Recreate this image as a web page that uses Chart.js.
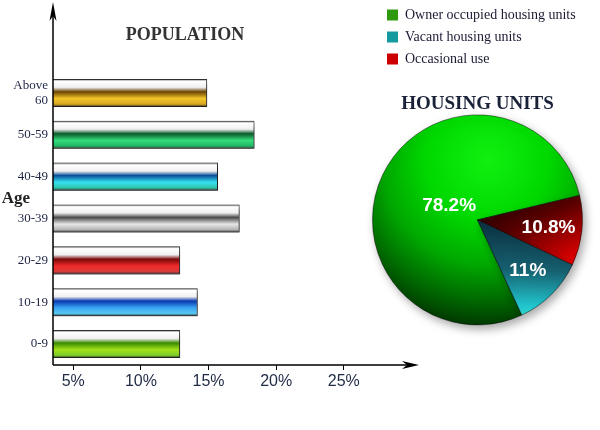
<!DOCTYPE html>
<html>
<head>
<meta charset="utf-8">
<script src="https://cdn.jsdelivr.net/npm/chart.js@4"></script>
<style>
  body { margin: 0; background: #fff; width: 600px; height: 430px; position: relative; overflow: hidden; font-family: "Liberation Serif", serif; }
  #barBox { position: absolute; left: 0; top: 0; width: 420px; height: 400px; }
  #pieBox { position: absolute; left: 360px; top: 0; width: 240px; height: 430px; }
  .title { position: absolute; font-weight: bold; white-space: nowrap; transform: translate(-50%, -50%); }
</style>
</head>
<body>
<div id="barBox"><canvas id="popChart"></canvas></div>
<div id="pieBox"><canvas id="housingChart"></canvas></div>
<div class="title" style="left:185px; top:34px; font-size:18px; color:#333;">POPULATION</div>
<div class="title" style="left:16px; top:198px; font-size:17px; color:#222;">Age</div>

<script>
// Population by age (percent)
const ageGroups = [["Above", "60"], "50-59", "40-49", "30-39", "20-29", "10-19", "0-9"];
const populationPct = [14.9, 18.4, 15.7, 17.3, 12.9, 14.2, 12.9];
const pctTicks = [5, 10, 15, 20, 25];

// Housing units (percent), in clockwise order of the pie
const housingLabels = ["Owner occupied housing units", "Occasional use", "Vacant housing units"];
const housingPct = [78.2, 10.8, 11];
const legendOrder = ["Owner occupied housing units", "Vacant housing units", "Occasional use"];

// bar colours: [dark band, bright, bottom]
const barColors = [
  ["#6b4300", "#f2c62a", "#d9a520"],
  ["#0b5a2a", "#34dc7c", "#22b866"],
  ["#0a4f9a", "#35e2f2", "#2ec4a8"],
  ["#4a4a4a", "#e6e6e6", "#b4b4b4"],
  ["#7a0808", "#f02a2a", "#d83a3a"],
  ["#0838b0", "#3aa4f4", "#58c8f0"],
  ["#3a8a00", "#a2e21a", "#7ccc2a"],
];
const housingColors = ["#2e9a0e", "#cc0000", "#139aa0"];

// drop shadow under the marks
const shadowPlugin = {
  id: "shadow",
  beforeDatasetsDraw(chart, args, opts) {
    const c = chart.ctx;
    c.save();
    c.shadowColor = opts.color;
    c.shadowBlur = opts.blur;
    c.shadowOffsetX = opts.x;
    c.shadowOffsetY = opts.y;
  },
  afterDatasetsDraw(chart) {
    chart.ctx.restore();
  },
};

// axis lines with arrow heads
const arrowAxes = {
  id: "arrowAxes",
  afterDraw(chart) {
    const { ctx, chartArea: a } = chart;
    const r = chart.width - 1;
    ctx.save();
    ctx.strokeStyle = "#000";
    ctx.fillStyle = "#000";
    ctx.lineWidth = 1.5;
    ctx.beginPath();
    ctx.moveTo(a.left, a.bottom);
    ctx.lineTo(a.left, 10);
    ctx.moveTo(a.left, a.bottom);
    ctx.lineTo(r - 8, a.bottom);
    ctx.stroke();
    ctx.beginPath();
    ctx.moveTo(a.left, 2);
    ctx.lineTo(a.left - 3.5, 21);
    ctx.lineTo(a.left, 16);
    ctx.lineTo(a.left + 3.5, 21);
    ctx.closePath();
    ctx.fill();
    ctx.beginPath();
    ctx.moveTo(r, a.bottom);
    ctx.lineTo(r - 17, a.bottom - 4);
    ctx.lineTo(r - 12, a.bottom);
    ctx.lineTo(r - 17, a.bottom + 4);
    ctx.closePath();
    ctx.fill();
    ctx.restore();
  },
};

function glossy(ctx) {
  const chart = ctx.chart;
  const y = chart.scales.y;
  const pal = barColors[ctx.dataIndex];
  if (!chart.chartArea || !y) return pal[1];
  const c = y.getPixelForValue(ctx.dataIndex);
  const half = (chart.chartArea.height / ageGroups.length) * 0.67 / 2;
  const g = chart.ctx.createLinearGradient(0, c - half, 0, c + half);
  g.addColorStop(0, "#444");
  g.addColorStop(0.08, "#ffffff");
  g.addColorStop(0.3, "#f0f0f0");
  g.addColorStop(0.46, pal[0]);
  g.addColorStop(0.7, pal[1]);
  g.addColorStop(0.9, pal[2]);
  g.addColorStop(1, "#2a2a2a");
  return g;
}

new Chart(document.getElementById("popChart"), {
  type: "bar",
  data: {
    labels: ageGroups,
    datasets: [
      {
        data: populationPct,
        backgroundColor: glossy,
        borderColor: "rgba(30,30,30,0.9)",
        borderWidth: 1,
        barPercentage: 0.67,
        categoryPercentage: 1,
      },
    ],
  },
  options: {
    indexAxis: "y",
    responsive: true,
    maintainAspectRatio: false,
    animation: false,
    layout: { padding: { top: 72, right: 12 } },
    plugins: {
      legend: { display: false },
      tooltip: { enabled: false },
      shadow: { color: "rgba(0,0,0,0.55)", blur: 6, x: 3, y: 3 },
    },
    scales: {
      x: {
        min: 3.5,
        max: 29.75,
        afterBuildTicks: (s) => {
          s.ticks = pctTicks.map((v) => ({ value: v }));
        },
        afterFit: (s) => {
          s.height = 35;
        },
        grid: { drawOnChartArea: false, drawTicks: true, tickLength: 5, color: "#000" },
        border: { display: false },
        ticks: {
          callback: (v) => v + "%",
          color: "#1f2a44",
          font: { family: "Liberation Sans", size: 16 },
          padding: 2,
          maxRotation: 0,
        },
      },
      y: {
        afterFit: (s) => {
          s.width = 53;
        },
        grid: { display: false, drawTicks: false },
        border: { display: false },
        ticks: {
          color: "#1e2545",
          font: { family: "Liberation Serif", size: 13 },
          padding: 5,
        },
      },
    },
  },
  plugins: [shadowPlugin, arrowAxes],
});

function sliceFill(ctx) {
  const chart = ctx.chart;
  const a = chart.chartArea;
  if (!a) return housingColors[ctx.dataIndex];
  const cx = (a.left + a.right) / 2;
  const cy = (a.top + a.bottom) / 2;
  const c = chart.ctx;
  let g;
  if (ctx.dataIndex === 0) {
    g = c.createRadialGradient(cx + 10, cy - 60, 0, cx + 10, cy - 60, 175);
    g.addColorStop(0, "#10f010");
    g.addColorStop(0.35, "#00d800");
    g.addColorStop(0.6, "#00a800");
    g.addColorStop(0.82, "#006400");
    g.addColorStop(1, "#002800");
  } else if (ctx.dataIndex === 1) {
    g = c.createLinearGradient(cx + 55, cy - 45, cx + 95, cy + 40);
    g.addColorStop(0, "#150000");
    g.addColorStop(0.45, "#5a0000");
    g.addColorStop(1, "#e00000");
  } else {
    g = c.createLinearGradient(cx - 5, cy, cx - 10, cy + 105);
    g.addColorStop(0, "#0c3040");
    g.addColorStop(0.45, "#166070");
    g.addColorStop(0.8, "#22c8d0");
    g.addColorStop(1, "#50f0c0");
  }
  return g;
}

// percent labels inside the slices
const sliceLabels = {
  id: "sliceLabels",
  afterDraw(chart) {
    const c = chart.ctx;
    const meta = chart.getDatasetMeta(0);
    c.save();
    c.font = "bold 19px 'Liberation Sans', Arial, sans-serif";
    c.fillStyle = "#fff";
    c.textAlign = "center";
    c.textBaseline = "middle";
    meta.data.forEach((arc, i) => {
      const p = arc.getProps(["x", "y", "startAngle", "endAngle", "outerRadius"]);
      const mid = (p.startAngle + p.endAngle) / 2;
      const k = p.endAngle - p.startAngle > Math.PI ? 0.3 : 0.68;
      c.fillText(
        housingPct[i] + "%",
        p.x + Math.cos(mid) * p.outerRadius * k,
        p.y + Math.sin(mid) * p.outerRadius * k
      );
    });
    c.restore();
  },
};

const pieOverrides = Chart.overrides.pie || Chart.overrides.doughnut;

new Chart(document.getElementById("housingChart"), {
  type: "pie",
  data: {
    labels: housingLabels,
    datasets: [
      {
        data: housingPct,
        backgroundColor: sliceFill,
        borderColor: "rgba(0,0,0,0.45)",
        borderWidth: 1,
        radius: 105,
        clip: false,
      },
    ],
  },
  options: {
    responsive: true,
    maintainAspectRatio: false,
    animation: false,
    rotation: 155,
    layout: { padding: { left: 19, right: 24, bottom: 112 } },
    plugins: {
      legend: {
        position: "top",
        align: "start",
        labels: {
          boxWidth: 11,
          boxHeight: 11,
          padding: 8,
          color: "#1a1a33",
          font: { family: "Liberation Serif", size: 14 },
          sort: (a, b) => legendOrder.indexOf(a.text) - legendOrder.indexOf(b.text),
          generateLabels: (chart) =>
            pieOverrides.plugins.legend.labels.generateLabels(chart).map((l) => ({
              ...l,
              fillStyle: housingColors[l.index],
              strokeStyle: housingColors[l.index],
              lineWidth: 0,
            })),
        },
      },
      title: {
        display: true,
        text: "HOUSING UNITS",
        weight: 500,
        color: "#1a2238",
        font: { family: "Liberation Serif", size: 19, weight: "bold" },
        padding: { top: 17, bottom: 6 },
      },
      tooltip: { enabled: false },
      shadow: { color: "rgba(0,0,0,0.35)", blur: 10, x: 3, y: 4 },
    },
  },
  plugins: [shadowPlugin, sliceLabels],
});
</script>
</body>
</html>
